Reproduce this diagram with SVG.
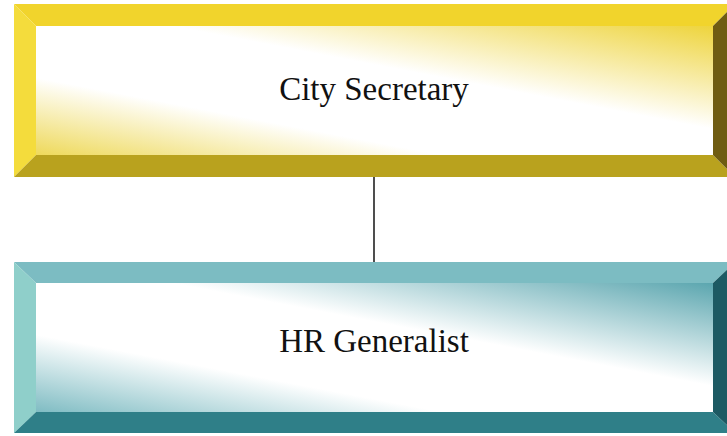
<svg xmlns="http://www.w3.org/2000/svg" width="727" height="436" viewBox="0 0 727 436">
<defs>
<linearGradient id="gy" x1="0" y1="1" x2="1" y2="0">
<stop offset="0" stop-color="#eed95a"/>
<stop offset="0.3" stop-color="#ffffff"/>
<stop offset="0.6" stop-color="#ffffff"/>
<stop offset="1" stop-color="#eed43c"/>
</linearGradient>
<linearGradient id="gt" x1="0" y1="1" x2="1" y2="0">
<stop offset="0" stop-color="#7fbcc3"/>
<stop offset="0.3" stop-color="#ffffff"/>
<stop offset="0.6" stop-color="#ffffff"/>
<stop offset="1" stop-color="#5ba6af"/>
</linearGradient>
<style>
text{font-family:"Liberation Serif","Times New Roman",serif;font-size:33px;fill:#111;text-anchor:middle}
</style>
</defs>
<rect width="727" height="436" fill="#ffffff"/>
<g id="connectors">
<line x1="374" y1="177" x2="374" y2="262" stroke="#222" stroke-width="1.6"/>
</g>
<g id="city-secretary">
<polygon points="14,4 735,4 713,26 36,26" fill="#f1d42c"/>
<polygon points="14,4 36,26 36,155 14,177" fill="#f4dc3c"/>
<polygon points="14,177 36,155 713,155 735,177" fill="#b9a21e"/>
<polygon points="735,4 735,177 713,155 713,26" fill="#6f5c12"/>
<rect x="36" y="26" width="677" height="129" fill="url(#gy)"/>
<text x="374" y="100">City Secretary</text>
</g>
<g id="hr-generalist">
<polygon points="14,262 735,262 713,283 36,283" fill="#7cbcc2"/>
<polygon points="14,262 36,283 36,412 14,433" fill="#8fcfca"/>
<polygon points="14,433 36,412 713,412 735,433" fill="#2f7f88"/>
<polygon points="735,262 735,433 713,412 713,283" fill="#1d5a63"/>
<rect x="36" y="283" width="677" height="129" fill="url(#gt)"/>
<text x="374" y="352">HR Generalist</text>
</g>
</svg>
